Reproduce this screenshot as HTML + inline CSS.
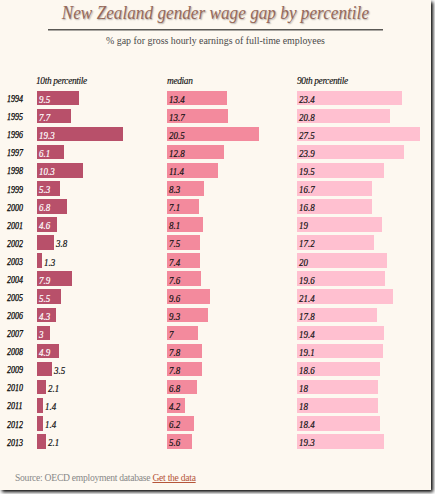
<!DOCTYPE html>
<html><head><meta charset="utf-8">
<style>
html,body{margin:0;padding:0;background:#fff;width:435px;height:494px;overflow:hidden;}
#card{position:absolute;left:0;top:0;width:431px;height:490px;background:#fdf8f0;box-shadow:2px 2px 3.5px #000;overflow:hidden;}
.t{position:absolute;white-space:nowrap;}
#title{left:0;width:431px;text-align:center;top:-1.3px;font-family:"Liberation Serif",serif;font-style:italic;font-size:19.3px;line-height:28px;color:#97695a;text-shadow:1px 1.2px 1.5px rgba(0,0,0,.3);transform:scaleX(0.893);transform-origin:214.5px 0;}
#rule{position:absolute;left:47.6px;width:335.4px;top:29px;height:1px;background:#5a5854;box-shadow:0 1px 0 #aaa7a2;}
#sub{left:0;width:431px;text-align:center;top:34px;font-family:"Liberation Serif",serif;font-size:9.9px;line-height:14px;color:#4a4a4a;}
.hd{position:absolute;top:74px;font-family:"Liberation Serif",serif;font-style:italic;font-size:9.4px;letter-spacing:-0.35px;line-height:14px;color:#111;-webkit-text-stroke:0.12px #111;white-space:nowrap;}
.yr{position:absolute;left:7px;height:14.5px;line-height:14.5px;margin-top:1.5px;font-family:"Liberation Serif",serif;font-style:italic;font-size:10px;color:#000;-webkit-text-stroke:0.25px #000;transform:scaleX(0.8);transform-origin:0 0;}
.bar{position:absolute;height:14.6px;}
.lbl{position:absolute;height:14.5px;line-height:14.5px;margin-top:2.2px;font-family:"Liberation Serif",serif;font-style:italic;font-size:10.5px;white-space:nowrap;-webkit-text-stroke:0.2px currentColor;transform:scaleX(0.85);transform-origin:0 0;}
#foot{left:15px;top:471px;font-family:"Liberation Serif",serif;font-size:9.6px;letter-spacing:-0.26px;line-height:14px;color:#888;}
#foot a{color:#b5553a;text-decoration:underline;}
</style></head><body>
<div id="card">
<div class="t" id="title">New Zealand gender wage gap by percentile</div>
<div id="rule"></div>
<div class="t" id="sub">% gap for gross hourly earnings of full-time employees</div>
<div class="hd" style="left:36px">10th percentile</div>
<div class="hd" style="left:167px">median</div>
<div class="hd" style="left:297px">90th percentile</div>
<div class="yr" style="top:90.60px">1994</div>
<div class="bar" style="left:36.9px;top:90.60px;width:42.27px;background:#b8506a"></div>
<div class="lbl" style="left:38.90px;top:90.60px;color:#fff">9.5</div>
<div class="bar" style="left:167.0px;top:90.60px;width:59.79px;background:#f38a9d"></div>
<div class="lbl" style="left:169.00px;top:90.60px;color:#111">13.4</div>
<div class="bar" style="left:297.3px;top:90.60px;width:104.69px;background:#ffc0d0"></div>
<div class="lbl" style="left:299.30px;top:90.60px;color:#111">23.4</div>
<div class="yr" style="top:108.68px">1995</div>
<div class="bar" style="left:36.9px;top:108.68px;width:34.19px;background:#b8506a"></div>
<div class="lbl" style="left:38.90px;top:108.68px;color:#fff">7.7</div>
<div class="bar" style="left:167.0px;top:108.68px;width:61.13px;background:#f38a9d"></div>
<div class="lbl" style="left:169.00px;top:108.68px;color:#111">13.7</div>
<div class="bar" style="left:297.3px;top:108.68px;width:93.01px;background:#ffc0d0"></div>
<div class="lbl" style="left:299.30px;top:108.68px;color:#111">20.8</div>
<div class="yr" style="top:126.76px">1996</div>
<div class="bar" style="left:36.9px;top:126.76px;width:86.28px;background:#b8506a"></div>
<div class="lbl" style="left:38.90px;top:126.76px;color:#fff">19.3</div>
<div class="bar" style="left:167.0px;top:126.76px;width:91.67px;background:#f38a9d"></div>
<div class="lbl" style="left:169.00px;top:126.76px;color:#111">20.5</div>
<div class="bar" style="left:297.3px;top:126.76px;width:123.10px;background:#ffc0d0"></div>
<div class="lbl" style="left:299.30px;top:126.76px;color:#111">27.5</div>
<div class="yr" style="top:144.84px">1997</div>
<div class="bar" style="left:36.9px;top:144.84px;width:27.01px;background:#b8506a"></div>
<div class="lbl" style="left:38.90px;top:144.84px;color:#fff">6.1</div>
<div class="bar" style="left:167.0px;top:144.84px;width:57.09px;background:#f38a9d"></div>
<div class="lbl" style="left:169.00px;top:144.84px;color:#111">12.8</div>
<div class="bar" style="left:297.3px;top:144.84px;width:106.93px;background:#ffc0d0"></div>
<div class="lbl" style="left:299.30px;top:144.84px;color:#111">23.9</div>
<div class="yr" style="top:162.92px">1998</div>
<div class="bar" style="left:36.9px;top:162.92px;width:45.87px;background:#b8506a"></div>
<div class="lbl" style="left:38.90px;top:162.92px;color:#fff">10.3</div>
<div class="bar" style="left:167.0px;top:162.92px;width:50.81px;background:#f38a9d"></div>
<div class="lbl" style="left:169.00px;top:162.92px;color:#111">11.4</div>
<div class="bar" style="left:297.3px;top:162.92px;width:87.18px;background:#ffc0d0"></div>
<div class="lbl" style="left:299.30px;top:162.92px;color:#111">19.5</div>
<div class="yr" style="top:181.00px">1999</div>
<div class="bar" style="left:36.9px;top:181.00px;width:23.42px;background:#b8506a"></div>
<div class="lbl" style="left:38.90px;top:181.00px;color:#fff">5.3</div>
<div class="bar" style="left:167.0px;top:181.00px;width:36.89px;background:#f38a9d"></div>
<div class="lbl" style="left:169.00px;top:181.00px;color:#111">8.3</div>
<div class="bar" style="left:297.3px;top:181.00px;width:74.60px;background:#ffc0d0"></div>
<div class="lbl" style="left:299.30px;top:181.00px;color:#111">16.7</div>
<div class="yr" style="top:199.08px">2000</div>
<div class="bar" style="left:36.9px;top:199.08px;width:30.15px;background:#b8506a"></div>
<div class="lbl" style="left:38.90px;top:199.08px;color:#fff">6.8</div>
<div class="bar" style="left:167.0px;top:199.08px;width:31.50px;background:#f38a9d"></div>
<div class="lbl" style="left:169.00px;top:199.08px;color:#111">7.1</div>
<div class="bar" style="left:297.3px;top:199.08px;width:75.05px;background:#ffc0d0"></div>
<div class="lbl" style="left:299.30px;top:199.08px;color:#111">16.8</div>
<div class="yr" style="top:217.16px">2001</div>
<div class="bar" style="left:36.9px;top:217.16px;width:20.27px;background:#b8506a"></div>
<div class="lbl" style="left:38.90px;top:217.16px;color:#fff">4.6</div>
<div class="bar" style="left:167.0px;top:217.16px;width:35.99px;background:#f38a9d"></div>
<div class="lbl" style="left:169.00px;top:217.16px;color:#111">8.1</div>
<div class="bar" style="left:297.3px;top:217.16px;width:84.93px;background:#ffc0d0"></div>
<div class="lbl" style="left:299.30px;top:217.16px;color:#111">19</div>
<div class="yr" style="top:235.24px">2002</div>
<div class="bar" style="left:36.9px;top:235.24px;width:16.68px;background:#b8506a"></div>
<div class="lbl" style="left:55.58px;top:235.24px;color:#111">3.8</div>
<div class="bar" style="left:167.0px;top:235.24px;width:33.30px;background:#f38a9d"></div>
<div class="lbl" style="left:169.00px;top:235.24px;color:#111">7.5</div>
<div class="bar" style="left:297.3px;top:235.24px;width:76.85px;background:#ffc0d0"></div>
<div class="lbl" style="left:299.30px;top:235.24px;color:#111">17.2</div>
<div class="yr" style="top:253.32px">2003</div>
<div class="bar" style="left:36.9px;top:253.32px;width:5.46px;background:#b8506a"></div>
<div class="lbl" style="left:44.36px;top:253.32px;color:#111">1.3</div>
<div class="bar" style="left:167.0px;top:253.32px;width:32.85px;background:#f38a9d"></div>
<div class="lbl" style="left:169.00px;top:253.32px;color:#111">7.4</div>
<div class="bar" style="left:297.3px;top:253.32px;width:89.42px;background:#ffc0d0"></div>
<div class="lbl" style="left:299.30px;top:253.32px;color:#111">20</div>
<div class="yr" style="top:271.40px">2004</div>
<div class="bar" style="left:36.9px;top:271.40px;width:35.09px;background:#b8506a"></div>
<div class="lbl" style="left:38.90px;top:271.40px;color:#fff">7.9</div>
<div class="bar" style="left:167.0px;top:271.40px;width:33.74px;background:#f38a9d"></div>
<div class="lbl" style="left:169.00px;top:271.40px;color:#111">7.6</div>
<div class="bar" style="left:297.3px;top:271.40px;width:87.62px;background:#ffc0d0"></div>
<div class="lbl" style="left:299.30px;top:271.40px;color:#111">19.6</div>
<div class="yr" style="top:289.48px">2005</div>
<div class="bar" style="left:36.9px;top:289.48px;width:24.32px;background:#b8506a"></div>
<div class="lbl" style="left:38.90px;top:289.48px;color:#fff">5.5</div>
<div class="bar" style="left:167.0px;top:289.48px;width:42.72px;background:#f38a9d"></div>
<div class="lbl" style="left:169.00px;top:289.48px;color:#111">9.6</div>
<div class="bar" style="left:297.3px;top:289.48px;width:95.71px;background:#ffc0d0"></div>
<div class="lbl" style="left:299.30px;top:289.48px;color:#111">21.4</div>
<div class="yr" style="top:307.56px">2006</div>
<div class="bar" style="left:36.9px;top:307.56px;width:18.93px;background:#b8506a"></div>
<div class="lbl" style="left:38.90px;top:307.56px;color:#fff">4.3</div>
<div class="bar" style="left:167.0px;top:307.56px;width:41.38px;background:#f38a9d"></div>
<div class="lbl" style="left:169.00px;top:307.56px;color:#111">9.3</div>
<div class="bar" style="left:297.3px;top:307.56px;width:79.54px;background:#ffc0d0"></div>
<div class="lbl" style="left:299.30px;top:307.56px;color:#111">17.8</div>
<div class="yr" style="top:325.64px">2007</div>
<div class="bar" style="left:36.9px;top:325.64px;width:13.09px;background:#b8506a"></div>
<div class="lbl" style="left:38.90px;top:325.64px;color:#fff">3</div>
<div class="bar" style="left:167.0px;top:325.64px;width:31.05px;background:#f38a9d"></div>
<div class="lbl" style="left:169.00px;top:325.64px;color:#111">7</div>
<div class="bar" style="left:297.3px;top:325.64px;width:86.73px;background:#ffc0d0"></div>
<div class="lbl" style="left:299.30px;top:325.64px;color:#111">19.4</div>
<div class="yr" style="top:343.72px">2008</div>
<div class="bar" style="left:36.9px;top:343.72px;width:21.62px;background:#b8506a"></div>
<div class="lbl" style="left:38.90px;top:343.72px;color:#fff">4.9</div>
<div class="bar" style="left:167.0px;top:343.72px;width:34.64px;background:#f38a9d"></div>
<div class="lbl" style="left:169.00px;top:343.72px;color:#111">7.8</div>
<div class="bar" style="left:297.3px;top:343.72px;width:85.38px;background:#ffc0d0"></div>
<div class="lbl" style="left:299.30px;top:343.72px;color:#111">19.1</div>
<div class="yr" style="top:361.80px">2009</div>
<div class="bar" style="left:36.9px;top:361.80px;width:15.33px;background:#b8506a"></div>
<div class="lbl" style="left:54.23px;top:361.80px;color:#111">3.5</div>
<div class="bar" style="left:167.0px;top:361.80px;width:34.64px;background:#f38a9d"></div>
<div class="lbl" style="left:169.00px;top:361.80px;color:#111">7.8</div>
<div class="bar" style="left:297.3px;top:361.80px;width:83.13px;background:#ffc0d0"></div>
<div class="lbl" style="left:299.30px;top:361.80px;color:#111">18.6</div>
<div class="yr" style="top:379.88px">2010</div>
<div class="bar" style="left:36.9px;top:379.88px;width:9.05px;background:#b8506a"></div>
<div class="lbl" style="left:47.95px;top:379.88px;color:#111">2.1</div>
<div class="bar" style="left:167.0px;top:379.88px;width:30.15px;background:#f38a9d"></div>
<div class="lbl" style="left:169.00px;top:379.88px;color:#111">6.8</div>
<div class="bar" style="left:297.3px;top:379.88px;width:80.44px;background:#ffc0d0"></div>
<div class="lbl" style="left:299.30px;top:379.88px;color:#111">18</div>
<div class="yr" style="top:397.96px">2011</div>
<div class="bar" style="left:36.9px;top:397.96px;width:5.91px;background:#b8506a"></div>
<div class="lbl" style="left:44.81px;top:397.96px;color:#111">1.4</div>
<div class="bar" style="left:167.0px;top:397.96px;width:18.48px;background:#f38a9d"></div>
<div class="lbl" style="left:169.00px;top:397.96px;color:#111">4.2</div>
<div class="bar" style="left:297.3px;top:397.96px;width:80.44px;background:#ffc0d0"></div>
<div class="lbl" style="left:299.30px;top:397.96px;color:#111">18</div>
<div class="yr" style="top:416.04px">2012</div>
<div class="bar" style="left:36.9px;top:416.04px;width:5.91px;background:#b8506a"></div>
<div class="lbl" style="left:44.81px;top:416.04px;color:#111">1.4</div>
<div class="bar" style="left:167.0px;top:416.04px;width:27.46px;background:#f38a9d"></div>
<div class="lbl" style="left:169.00px;top:416.04px;color:#111">6.2</div>
<div class="bar" style="left:297.3px;top:416.04px;width:82.24px;background:#ffc0d0"></div>
<div class="lbl" style="left:299.30px;top:416.04px;color:#111">18.4</div>
<div class="yr" style="top:434.12px">2013</div>
<div class="bar" style="left:36.9px;top:434.12px;width:9.05px;background:#b8506a"></div>
<div class="lbl" style="left:47.95px;top:434.12px;color:#111">2.1</div>
<div class="bar" style="left:167.0px;top:434.12px;width:24.76px;background:#f38a9d"></div>
<div class="lbl" style="left:169.00px;top:434.12px;color:#111">5.6</div>
<div class="bar" style="left:297.3px;top:434.12px;width:86.28px;background:#ffc0d0"></div>
<div class="lbl" style="left:299.30px;top:434.12px;color:#111">19.3</div>
<div class="t" id="foot">Source: OECD employment database <a>Get the data</a></div>
</div>
</body></html>
